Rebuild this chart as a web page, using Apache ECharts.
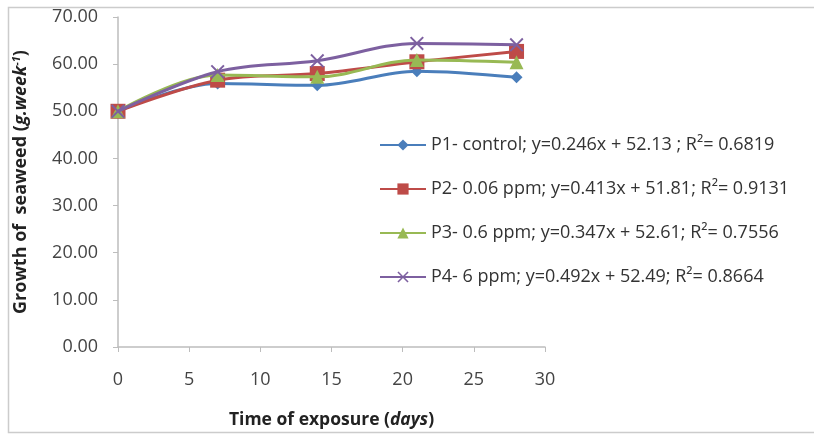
<!DOCTYPE html>
<html><head><meta charset="utf-8">
<script src="https://cdn.jsdelivr.net/npm/echarts@6/dist/echarts.min.js"></script>
<style>html,body{margin:0;padding:0;background:#fff}#c{width:814px;height:434px}</style>
</head><body><div id="c"></div>
<script>
const days = [0, 7, 14, 21, 28];
const p1 = [50.0, 55.9, 55.5, 58.5, 57.2];
const p2 = [50.0, 56.6, 58.0, 60.5, 62.7];
const p3 = [50.0, 57.7, 57.3, 60.9, 60.4];
const p4 = [50.0, 58.4, 60.7, 64.4, 64.1];
const names = [
  'P1- control; y=0.246x + 52.13 ; R\u00b2= 0.6819',
  'P2- 0.06 ppm; y=0.413x + 51.81; R\u00b2= 0.9131',
  'P3- 0.6 ppm; y=0.347x + 52.61; R\u00b2= 0.7556',
  'P4- 6 ppm; y=0.492x + 52.49; R\u00b2= 0.8664'
];
const colors = ['#4a7ebb', '#be4b48', '#98b954', '#7d60a0'];
const symbols = ['diamond', 'rect', 'triangle',
  'path://M0,1L1,0L5,4L9,0L10,1L6,5L10,9L9,10L5,6L1,10L0,9L4,5Z'];
const sizes = [12, 15, 14, 14];
const data = [p1, p2, p3, p4];
const FONT = 'Open Sans';
const chart = echarts.init(document.getElementById('c'));
chart.setOption({
  animation: false,
  textStyle: {fontFamily: FONT},
  graphic: [{type: 'rect', shape: {x: 8.5, y: 7.5, width: 820, height: 425},
    style: {fill: 'none', stroke: '#cccccc', lineWidth: 1.5}, silent: true}],
  grid: {left: 118, right: 269, top: 17, bottom: 87, containLabel: false, outerBoundsMode: 'none'},
  legend: {
    orient: 'vertical', left: 374, top: 131, itemGap: 26,
    itemWidth: 46, itemHeight: 14,
    textStyle: {fontFamily: FONT, fontSize: 18, color: '#333'},
    data: names
  },
  xAxis: {
    type: 'value', min: 0, max: 30, interval: 5,
    name: '{b|Time of exposure (}{i|days}{b|)}',
    nameLocation: 'middle', nameGap: 64,
    nameTextStyle: {rich: {
      b: {fontFamily: FONT, fontWeight: 'bold', fontSize: 17.5, color: '#222'},
      i: {fontFamily: FONT, fontWeight: 'bold', fontStyle: 'italic', fontSize: 17.5, color: '#222'}}},
    axisLine: {lineStyle: {color: '#bdbdbd', width: 1.5}},
    axisTick: {show: true, length: 5, lineStyle: {color: '#bdbdbd'}},
    axisLabel: {fontSize: 18, color: '#444', margin: 24},
    splitLine: {show: false}
  },
  yAxis: {
    type: 'value', min: 0, max: 70, interval: 10,
    name: '{b|Growth of  seaweed (}{i|g.week}{s|-1}{b|)}',
    nameLocation: 'middle', nameGap: 87, nameRotate: 90,
    nameTextStyle: {rich: {
      b: {fontFamily: FONT, fontWeight: 'bold', fontSize: 18, color: '#222'},
      i: {fontFamily: FONT, fontWeight: 'bold', fontStyle: 'italic', fontSize: 18, color: '#222'},
      s: {fontFamily: FONT, fontWeight: 'bold', fontStyle: 'italic', fontSize: 11, color: '#222', verticalAlign: 'top', padding: [0, 0, 9, 0]}}},
    axisLine: {show: true, lineStyle: {color: '#bdbdbd', width: 1.5}},
    axisTick: {show: true, length: 5, lineStyle: {color: '#bdbdbd'}},
    axisLabel: {fontSize: 18, color: '#444', margin: 20, formatter: v => v.toFixed(2)},
    splitLine: {show: false}
  },
  series: data.map((d, i) => ({
    name: names[i], type: 'line', smooth: 0.35,
    data: days.map((x, j) => [x, d[j]]),
    symbol: symbols[i], symbolSize: sizes[i],
    lineStyle: {color: colors[i], width: 3},
    itemStyle: {color: colors[i]},
    z: 2 + i
  }))
});
</script></body></html>
